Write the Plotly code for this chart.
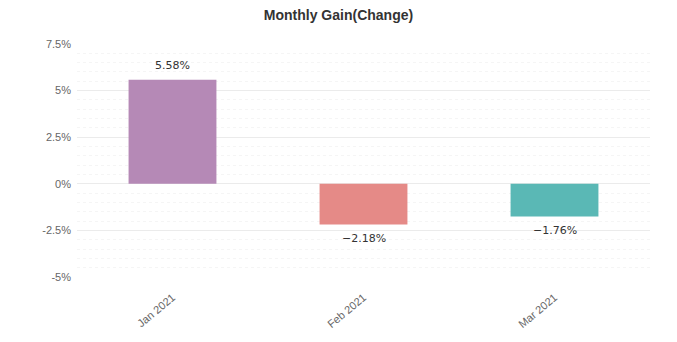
import plotly.graph_objects as go

months = ["Jan 2021", "Feb 2021", "Mar 2021"]
gains = [5.58, -2.18, -1.76]
bar_colors = ["#B589B6", "#E58A87", "#5AB8B5"]
y_ticks = [-5, -2.5, 0, 2.5, 5, 7.5]
y_tick_labels = ["-5%", "-2.5%", "0%", "2.5%", "5%", "7.5%"]

fig = go.Figure()
fig.add_trace(go.Bar(
    x=months,
    y=gains,
    marker=dict(color=bar_colors, line=dict(width=0)),
    width=0.46,
    hoverinfo="skip",
))

# value labels, offset above positive bars and below negative ones
for m, v in zip(months, gains):
    fig.add_annotation(
        x=m,
        y=v,
        text=f"{v:.2f}%".replace("-", "\u2212"),
        showarrow=False,
        yanchor="middle",
        yshift=14 if v >= 0 else -14,
        font=dict(family="DejaVu Sans", size=11, color="#333333"),
    )

fig.update_layout(
    width=677,
    height=342,
    margin=dict(l=77, r=27, t=44, b=65),
    paper_bgcolor="white",
    plot_bgcolor="white",
    showlegend=False,
    title=dict(
        text="<b>Monthly Gain(Change)</b>",
        x=0.5,
        xanchor="center",
        y=0.955,
        yanchor="middle",
        font=dict(family="Liberation Sans", size=14, color="#333333"),
    ),
    xaxis=dict(
        tickangle=-40,
        tickfont=dict(family="Liberation Sans", size=11, color="#666666"),
        ticklabelstandoff=11,
        showgrid=False,
        showline=False,
        zeroline=False,
        ticks="",
    ),
    yaxis=dict(
        range=[-5, 7.5],
        tickvals=y_ticks,
        ticktext=y_tick_labels,
        tickfont=dict(family="Liberation Sans", size=11, color="#666666"),
        ticklabelstandoff=5,
        showgrid=True,
        gridcolor="#ebebeb",
        gridwidth=1,
        zeroline=False,
        showline=False,
        ticks="",
        minor=dict(dtick=0.5, showgrid=True, gridcolor="#f5f5f5", griddash="dot", gridwidth=1),
    ),
    bargap=0.54,
)

fig.write_html("out.html")
